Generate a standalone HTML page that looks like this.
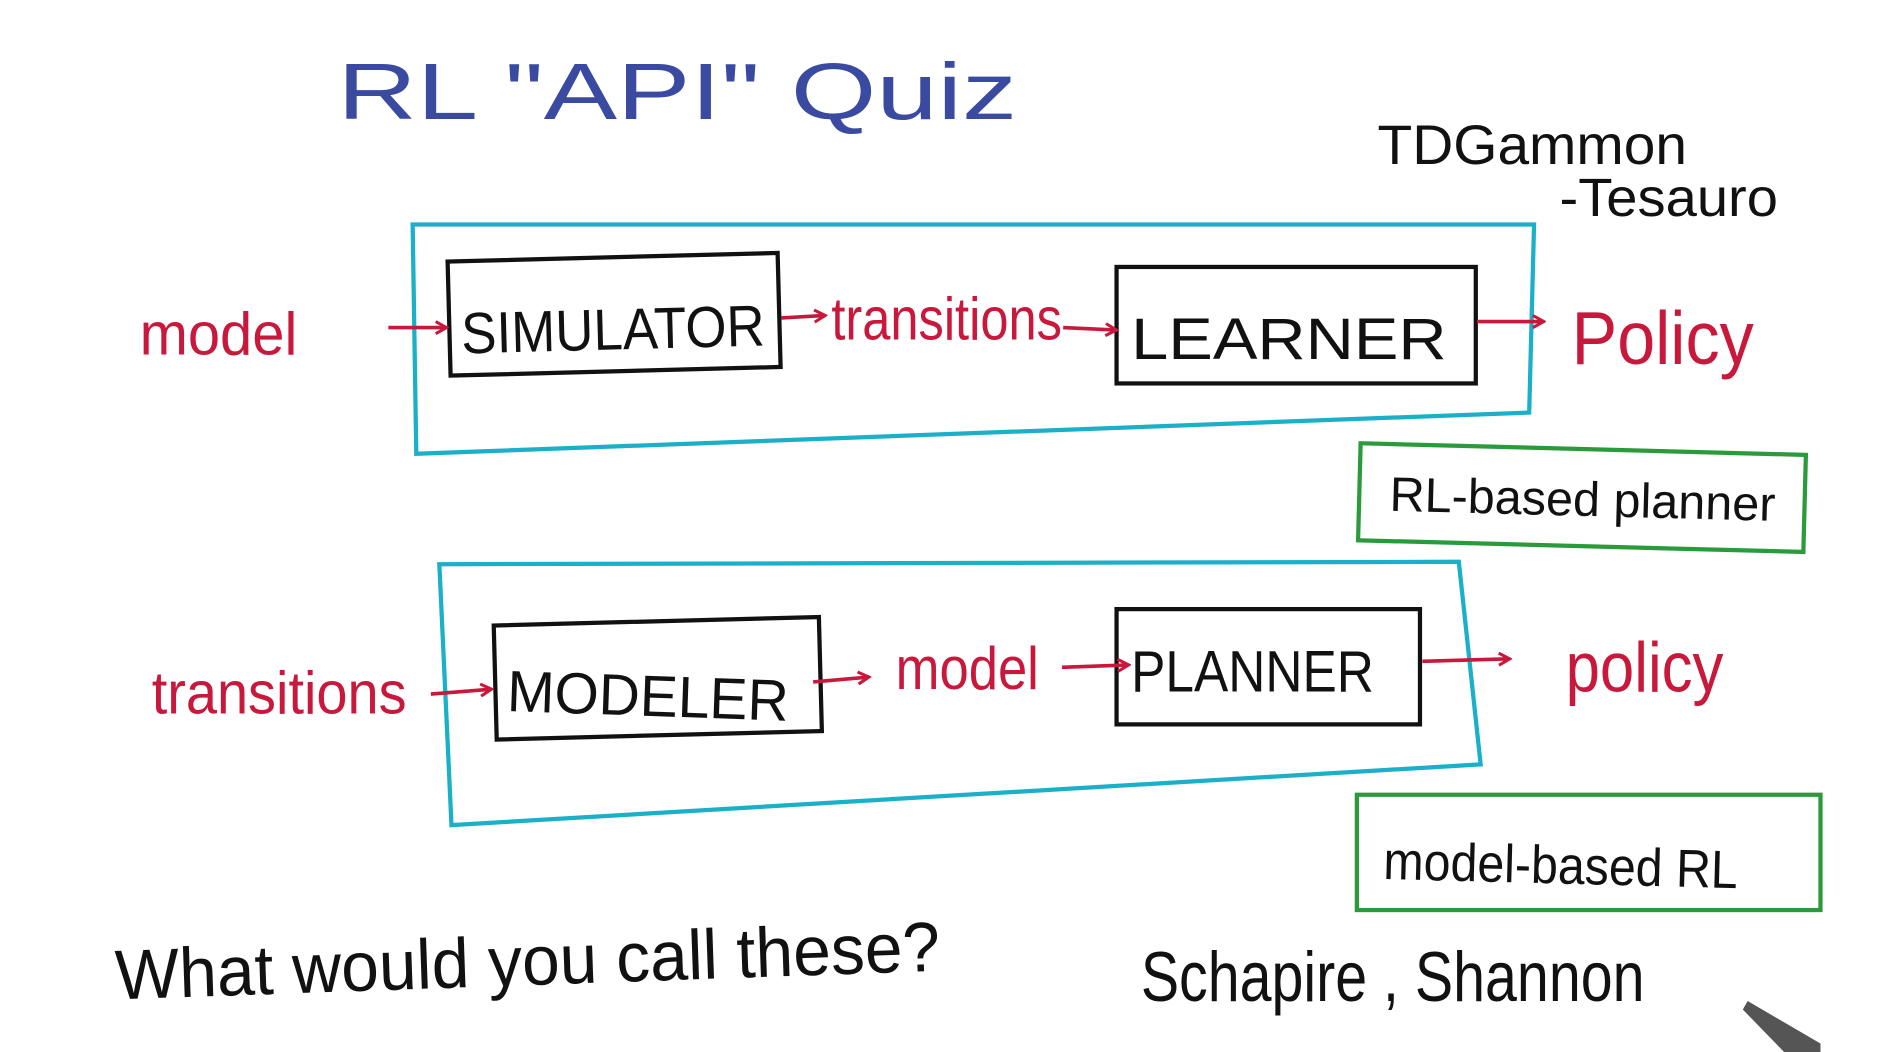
<!DOCTYPE html>
<html><head><meta charset="utf-8"><style>
html,body{margin:0;padding:0;background:#fff;overflow:hidden}
svg{display:block}
text{font-family:"Liberation Sans",sans-serif}
</style></head><body>
<svg width="1903" height="1052" viewBox="0 0 1568 867" preserveAspectRatio="none" xmlns="http://www.w3.org/2000/svg">
<defs>
<marker id="a" markerWidth="12" markerHeight="12" refX="10" refY="6" orient="auto" markerUnits="userSpaceOnUse"><path d="M1,1 L10,6 L1,11" fill="none" stroke="#c8193c" stroke-width="2.5"/></marker>
</defs>
<rect width="1568" height="867" fill="#fff"/>
<text x="278" y="98" font-size="66" fill="#3a4aa0" textLength="560" lengthAdjust="spacingAndGlyphs">RL  "API"  Quiz</text>
<text x="1135" y="135" font-size="46" fill="#111" textLength="255" lengthAdjust="spacingAndGlyphs">TDGammon</text>
<text x="1285" y="178" font-size="44" fill="#111" textLength="180" lengthAdjust="spacingAndGlyphs">-Tesauro</text>

<path d="M340,185 L1264,185 L1260,340 L343,374 Z" fill="none" stroke="#1ab0c8" stroke-width="3.5"/>
<path d="M362,465 L1202,463 L1220,630 L372,680 Z" fill="none" stroke="#1ab0c8" stroke-width="3.5"/>
<rect x="1120" y="370" width="367" height="80" fill="none" stroke="#2a9a3a" stroke-width="3.5" transform="rotate(1.5 1300 410)"/>
<rect x="1118" y="655" width="382" height="95" fill="none" stroke="#2a9a3a" stroke-width="3.5"/>

<g fill="none" stroke="#111" stroke-width="3.5">
<rect x="370" y="212" width="272" height="94" transform="rotate(-1.5 506 259)"/>
<rect x="920" y="220" width="296" height="96"/>
<rect x="408" y="512" width="268" height="94" transform="rotate(-1.5 542 559)"/>
<rect x="920" y="502" width="250" height="95"/>
</g>

<g font-size="48" fill="#111">
<text x="380" y="288" textLength="250" lengthAdjust="spacingAndGlyphs" transform="rotate(-1.5 506 270)">SIMULATOR</text>
<text x="932" y="296" textLength="260" lengthAdjust="spacingAndGlyphs">LEARNER</text>
<text x="418" y="590" textLength="232" lengthAdjust="spacingAndGlyphs" transform="rotate(2 534 570)">MODELER</text>
<text x="932" y="570" textLength="200" lengthAdjust="spacingAndGlyphs">PLANNER</text>
</g>

<g font-size="50" fill="#c8193c">
<text x="115" y="292" textLength="130" lengthAdjust="spacingAndGlyphs">model</text>
<text x="685" y="280" textLength="190" lengthAdjust="spacingAndGlyphs">transitions</text>
<text x="1295" y="300" font-size="62" textLength="150" lengthAdjust="spacingAndGlyphs">Policy</text>
<text x="125" y="588" textLength="210" lengthAdjust="spacingAndGlyphs">transitions</text>
<text x="738" y="568" textLength="118" lengthAdjust="spacingAndGlyphs">model</text>
<text x="1290" y="570" font-size="58" textLength="130" lengthAdjust="spacingAndGlyphs">policy</text>
</g>

<g stroke="#c8193c" stroke-width="3" marker-end="url(#a)">
<line x1="320" y1="270" x2="368" y2="270"/>
<line x1="644" y1="262" x2="680" y2="260"/>
<line x1="876" y1="270" x2="920" y2="272"/>
<line x1="1217" y1="265" x2="1272" y2="265"/>
<line x1="355" y1="572" x2="405" y2="568"/>
<line x1="670" y1="562" x2="716" y2="558"/>
<line x1="875" y1="550" x2="930" y2="548"/>
<line x1="1172" y1="545" x2="1244" y2="543"/>
</g>

<text x="1145" y="425" font-size="40" fill="#111" textLength="318" lengthAdjust="spacingAndGlyphs" transform="rotate(1.5 1300 410)">RL-based planner</text>
<text x="1140" y="728" font-size="44" fill="#111" textLength="292" lengthAdjust="spacingAndGlyphs" transform="rotate(1.5 1280 710)">model-based RL</text>

<text x="95" y="812" font-size="58" fill="#111" textLength="680" lengthAdjust="spacingAndGlyphs" transform="rotate(-2 430 800)">What would you call these?</text>
<text x="940" y="825" font-size="58" fill="#111" textLength="415" lengthAdjust="spacingAndGlyphs">Schapire , Shannon</text>

<path d="M1440,825 L1500,860 L1500,867 L1470,867 L1436,832 Z" fill="#555"/>
</svg>
</body></html>
